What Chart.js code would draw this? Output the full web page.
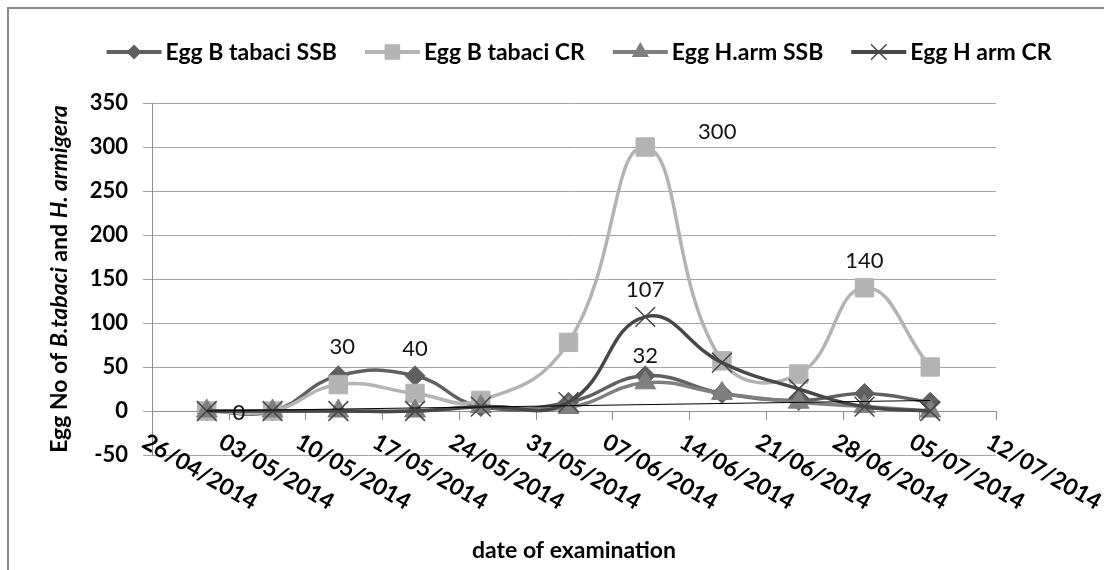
<!DOCTYPE html>
<html>
<head>
<meta charset="utf-8">
<script src="https://cdn.jsdelivr.net/npm/chart.js@4.4.1/dist/chart.umd.min.js"></script>
<style>
  html, body { margin: 0; padding: 0; background: #fff; }
  #wrap { position: relative; width: 1112px; height: 570px; }
</style>
</head>
<body>
<div id="wrap"><canvas id="eggChart" width="1112" height="570"></canvas></div>
<script>
// --- DATA ---
const sampleDates = ['01/05/2014', '07/05/2014', '13/05/2014', '20/05/2014', '26/05/2014', '03/06/2014',
                     '10/06/2014', '17/06/2014', '24/06/2014', '30/06/2014', '06/07/2014'];
const xTickLabels = ['26/04/2014', '03/05/2014', '10/05/2014', '17/05/2014', '24/05/2014', '31/05/2014',
                     '07/06/2014', '14/06/2014', '21/06/2014', '28/06/2014', '05/07/2014', '12/07/2014'];
const seriesNames = ['Egg B tabaci SSB', 'Egg B tabaci CR', 'Egg H.arm SSB', 'Egg H arm CR'];
const bTabaciSSB = [0, 0, 40, 40, 5, 10, 40, 20, 12, 20, 10];
const bTabaciCR  = [0, 0, 30, 20, 12, 78, 300, 57, 42, 140, 50];
const hArmSSB    = [0, 0, 0, 0, 5, 4, 32, 20, 10, 5, 0];
const hArmCR     = [0, 0, 0, 0, 5, 10, 107, 55, 25, 5, 0];
// thin straight trend line under the curves
const trendDates  = ['01/05/2014', '06/07/2014'];
const trendValues = [0, 12];
const yTickValues = [-50, 0, 50, 100, 150, 200, 250, 300, 350];
// points that carry a value label: series index, point index, placement
const labelledPoints = [
  { series: 3, index: 0, place: 'right' },
  { series: 1, index: 2, place: 'high' },
  { series: 0, index: 3, place: 'above' },
  { series: 1, index: 6, place: 'upRight' },
  { series: 3, index: 6, place: 'above' },
  { series: 2, index: 6, place: 'above' },
  { series: 1, index: 9, place: 'above' }
];
const allSeries = [bTabaciSSB, bTabaciCR, hArmSSB, hArmCR];

// --- HELPERS ---
const FONT = 'Lato, "DejaVu Sans", sans-serif';
const dayZero = Date.UTC(2014, 3, 26);
function toDay(s) {
  const [d, m, y] = s.split('/').map(Number);
  return (Date.UTC(y, m - 1, d) - dayZero) / 86400000;
}

const styles = [
  { color: '#606060', marker: 'rectRot',  radius: 10, legendR: 7.5 },
  { color: '#b3b3b3', marker: 'rect',     radius: 13, legendR: 11 },
  { color: '#7f7f7f', marker: 'triangle', radius: 12, legendR: 10 },
  { color: '#474747', marker: 'crossRot', radius: 14, legendR: 11 }
];

function drawMarker(ctx, marker, x, y, r, color) {
  ctx.save();
  ctx.fillStyle = color;
  ctx.strokeStyle = color;
  ctx.beginPath();
  if (marker === 'rectRot') {
    ctx.moveTo(x - r, y); ctx.lineTo(x, y - r); ctx.lineTo(x + r, y); ctx.lineTo(x, y + r);
    ctx.closePath(); ctx.fill();
  } else if (marker === 'rect') {
    const s = r * Math.SQRT1_2;
    ctx.rect(x - s, y - s, 2 * s, 2 * s); ctx.fill();
  } else if (marker === 'triangle') {
    ctx.moveTo(x, y - r);
    ctx.lineTo(x + r * 0.866, y + r * 0.5);
    ctx.lineTo(x - r * 0.866, y + r * 0.5);
    ctx.closePath(); ctx.fill();
  } else {
    const o = r * Math.SQRT1_2;
    ctx.lineWidth = 1.5;
    ctx.moveTo(x - o, y - o); ctx.lineTo(x + o, y + o);
    ctx.moveTo(x + o, y - o); ctx.lineTo(x - o, y + o);
    ctx.stroke();
  }
  ctx.restore();
}

// --- DATASETS ---
const datasets = allSeries.map((values, i) => ({
  label: seriesNames[i],
  data: sampleDates.map((d, k) => ({ x: toDay(d), y: values[k] })),
  borderColor: styles[i].color,
  backgroundColor: styles[i].color,
  borderWidth: 3.5,
  pointStyle: styles[i].marker,
  pointRadius: styles[i].radius,
  pointBorderWidth: styles[i].marker === 'crossRot' ? 1.5 : 1,
  tension: 0.45,
  order: 5 - i
}));
datasets.push({
  label: 'trend',
  data: trendDates.map((d, k) => ({ x: toDay(d), y: trendValues[k] })),
  borderColor: '#000',
  borderWidth: 1,
  pointRadius: 0,
  tension: 0,
  order: 0
});

// --- DECORATION PLUGIN ---
const decorations = {
  id: 'decorations',
  beforeDatasetsDraw(chart) {
    const { ctx, scales: { x, y } } = chart;
    const y0 = y.getPixelForValue(0);
    ctx.save();
    ctx.strokeStyle = '#8c8c8c';
    ctx.lineWidth = 1;
    ctx.beginPath();
    ctx.moveTo(x.left, y0 + 0.5); ctx.lineTo(x.right, y0 + 0.5);
    xTickLabels.forEach(t => {
      const px = Math.round(x.getPixelForValue(toDay(t))) + 0.5;
      ctx.moveTo(px, y0); ctx.lineTo(px, y0 + 9);
    });
    ctx.stroke();
    ctx.restore();
  },
  afterDraw(chart) {
    const { ctx, scales: { x, y }, chartArea } = chart;
    const y0 = y.getPixelForValue(0);
    ctx.save();

    // frame
    ctx.strokeStyle = '#8a8a8a';
    ctx.lineWidth = 2;
    ctx.beginPath();
    ctx.moveTo(8, 570); ctx.lineTo(8, 8); ctx.lineTo(1104, 8);
    ctx.stroke();

    // x tick labels, slanted downwards
    ctx.fillStyle = '#000';
    ctx.font = 'bold 23px ' + FONT;
    ctx.textAlign = 'left';
    ctx.textBaseline = 'top';
    xTickLabels.forEach(t => {
      const px = x.getPixelForValue(toDay(t));
      ctx.save();
      ctx.translate(px - 2, y0 + 19);
      ctx.rotate(Math.PI / 6);
      ctx.fillText(t, 0, 0);
      ctx.restore();
    });

    // x title
    ctx.font = 'bold 23px ' + FONT;
    ctx.textAlign = 'center';
    ctx.textBaseline = 'middle';
    ctx.fillText('date of examination', (chartArea.left + chartArea.right) / 2, 551);

    // y title with italic species names
    const parts = [
      ['Egg No of ', 'bold'], ['B.tabaci', 'italic bold'], [' and ', 'bold'], ['H. armigera', 'italic bold']
    ];
    const ySize = 23;
    let total = 0;
    parts.forEach(p => { ctx.font = p[1] + ' ' + ySize + 'px ' + FONT; total += ctx.measureText(p[0]).width; });
    ctx.save();
    ctx.translate(60, (chartArea.top + chartArea.bottom) / 2);
    ctx.rotate(-Math.PI / 2);
    ctx.textAlign = 'left';
    let cx = -total / 2;
    parts.forEach(p => {
      ctx.font = p[1] + ' ' + ySize + 'px ' + FONT;
      ctx.fillText(p[0], cx, 0);
      cx += ctx.measureText(p[0]).width;
    });
    ctx.restore();

    // value labels
    ctx.font = '22px ' + FONT;
    ctx.fillStyle = '#111';
    ctx.textAlign = 'center';
    ctx.textBaseline = 'middle';
    const offsets = { above: [0, -27], high: [4, -38], right: [32, 2], upRight: [72, -15] };
    labelledPoints.forEach(l => {
      const v = allSeries[l.series][l.index];
      const px = x.getPixelForValue(toDay(sampleDates[l.index]));
      const py = y.getPixelForValue(v);
      const o = offsets[l.place];
      ctx.fillText(String(v), px + o[0], py + o[1]);
    });

    // legend
    ctx.font = 'bold 23px ' + FONT;
    ctx.textAlign = 'left';
    const lineW = 55, textGap = 4, itemGap = 28;
    const widths = seriesNames.map(n => lineW + textGap + ctx.measureText(n).width);
    const legendW = widths.reduce((a, b) => a + b, 0) + itemGap * (seriesNames.length - 1);
    let lx = 579 - legendW / 2;
    const ly = 52;
    seriesNames.forEach((n, i) => {
      ctx.strokeStyle = styles[i].color;
      ctx.lineWidth = 4;
      ctx.beginPath();
      ctx.moveTo(lx, ly); ctx.lineTo(lx + lineW, ly);
      ctx.stroke();
      drawMarker(ctx, styles[i].marker, lx + lineW / 2, ly, styles[i].legendR, styles[i].color);
      ctx.fillStyle = '#000';
      ctx.fillText(n, lx + lineW + textGap, ly + 1);
      lx += widths[i] + itemGap;
    });

    ctx.restore();
  }
};

// --- CHART SETUP ---
const eggChart = new Chart(document.getElementById('eggChart'), {
  type: 'line',
  data: { datasets },
  options: {
    responsive: false,
    animation: false,
    layout: { padding: { top: 103, right: 116, bottom: 115, left: 0 } },
    plugins: { legend: { display: false }, tooltip: { enabled: false } },
    scales: {
      x: { type: 'linear', display: false, min: toDay(xTickLabels[0]), max: toDay(xTickLabels[xTickLabels.length - 1]) },
      y: {
        min: yTickValues[0],
        max: yTickValues[yTickValues.length - 1],
        afterBuildTicks(scale) { scale.ticks = yTickValues.map(v => ({ value: v })); },
        afterFit(scale) { scale.width = 152; },
        ticks: { color: '#000', padding: 15, font: { family: FONT, weight: 'bold', size: 22 } },
        grid: { color: '#a6a6a6', lineWidth: 1, tickLength: 9 },
        border: { color: '#8c8c8c', width: 1 }
      }
    }
  },
  plugins: [decorations]
});
</script>
</body>
</html>
